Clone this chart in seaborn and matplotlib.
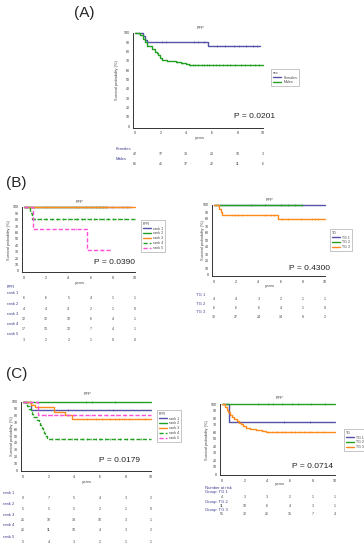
"""
FFP Kaplan-Meier curves by sex (A), FPR rank and TG group (B, C).
Redrawn with seaborn from the published figure.
"""

import numpy as np
import pandas as pd
import matplotlib
matplotlib.use('Agg')
import matplotlib.pyplot as plt
import matplotlib.transforms as mtransforms
import seaborn as sns

W, H = 364, 550
PAD_X, PAD_Y = 0.15, 2.0

BLUE = '#5252a8'
GREEN = '#22a022'
ORANGE = '#ff8a1c'
MAGENTA = '#ff4fd6'
LABEL_BLUE = '#3d3d8f'
TEXT = '#444444'

# ---- values ----
years = [0, 2, 4, 6, 8, 10]

# (A) sex
a_fem_t = [0, 0.6, 0.8, 0.95, 5.7, 9.8]
a_fem_s = [100, 97, 93, 90, 86, 86]
a_fem_cens = [2.1, 2.4, 4.6, 4.9, 5.4, 6.4, 7.0, 7.7, 8.1, 8.7, 9.2, 9.5]
a_male_t = [0, 0.4, 0.6, 0.75, 0.9, 1.3, 1.55, 1.7, 1.8, 1.95, 2.1, 2.5,
            3.2, 3.6, 4.0, 4.2, 10]
a_male_s = [100, 98, 94, 90, 86, 83, 80, 78, 76, 73, 71, 70, 69, 68, 67, 66, 66]
a_male_cens = [3.3, 3.7, 4.3, 4.5, 4.7, 4.9, 5.2, 5.4, 5.6, 5.8, 6.1, 6.3,
               6.6, 6.9, 7.2, 7.4, 7.8, 8.3, 8.6, 9.0, 9.4, 9.7]
a_fem_risk = [42, 37, 33, 20, 10, 3]
a_male_risk = [66, 45, 37, 22, 11, 6]

# (B) left, FPR rank
b_r1_t, b_r1_s = [0, 9.6], [100, 100]
b_r2_t, b_r2_s = [0, 7.5], [100, 100]
b_r3_t, b_r3_s = [0, 10], [100, 100]
b_r3_cens = [2.0, 2.3, 4.7, 5.0, 5.6, 6.1, 6.5, 6.8, 7.1, 7.4, 7.9, 8.9, 9.3]
b_r4_t, b_r4_s = [0, 0.5, 0.75, 10], [100, 91, 81, 81]
b_r4_cens = [1.0, 1.5, 2.0, 2.5, 3.0, 3.5, 4.0, 4.5, 4.8, 5.2, 5.5, 6.0,
             6.3, 6.8, 7.2, 7.6, 8.0, 8.5, 9.0]
b_r5_t, b_r5_s = [0, 0.78, 5.7, 7.9], [100, 66, 33, 33]
b_r5_cens = [4.7, 7.0]
b_rank_risk = [[6, 6, 5, 4, 1, 1],
               [4, 4, 4, 2, 1, 0],
               [12, 12, 10, 6, 4, 1],
               [17, 13, 12, 7, 4, 1],
               [3, 2, 2, 1, 0, 0]]

# (B) right, TG group
bt_g1_t, bt_g1_s = [0, 10], [100, 100]
bt_g2_t, bt_g2_s = [0, 7.9], [100, 100]
bt_g2_cens = [3.3, 4.6, 6.0, 6.7, 7.3, 7.9]
bt_g3_t, bt_g3_s = [0, 0.45, 0.6, 0.7, 5.8, 10], [100, 95, 90, 86, 80, 80]
bt_g3_cens = [1.6, 1.9, 2.2, 2.5, 4.6, 5.1, 5.4, 6.1, 6.7, 7.8, 8.8, 9.1, 9.4]
bt_tg_risk = [[4, 4, 3, 2, 1, 1],
              [6, 6, 6, 4, 1, 0],
              [32, 27, 24, 14, 8, 2]]

# (C) left, FPR rank
c_r1_t, c_r1_s = [0, 0.6, 10], [100, 88, 88]
c_r1_cens = [3.5, 7.0]
c_r2_t, c_r2_s = [0, 10], [100, 100]
c_r2_cens = [4.9, 5.4, 7.2]
c_r3_t = [0, 0.6, 0.95, 2.4, 3.3, 3.8, 10]
c_r3_s = [100, 96, 92, 86, 81, 75, 75]
c_r3_cens = [5.0, 5.7, 6.2, 6.8, 7.2, 7.5, 7.9, 8.3, 9.5]
c_r4_t = [0, 0.2, 0.35, 0.5, 0.6, 0.7, 0.8, 1.1, 1.25, 1.35, 1.45, 1.55,
          1.65, 1.75, 1.85, 10]
c_r4_s = [100, 97, 94, 90, 86, 82, 78, 74, 70, 66, 62, 58, 54, 50, 46, 46]
c_r4_cens = [2.3, 2.8, 3.3, 3.8, 4.2, 4.7, 5.0, 5.3, 5.7, 6.0, 6.4, 6.8,
             7.2, 7.6, 8.1, 8.6, 9.2]
c_r5_t, c_r5_s = [0, 1.2, 10], [100, 81, 81]
c_r5_cens = [1.8, 2.3, 2.9, 3.5, 4.0, 4.6, 5.2, 6.0, 6.6, 7.3, 8.0]
c_rank_risk = [[9, 7, 5, 4, 3, 2],
               [5, 5, 5, 2, 1, 0],
               [21, 18, 14, 10, 3, 1],
               [26, 11, 10, 4, 3, 2],
               [5, 4, 3, 2, 1, 1]]

# (C) right, TG group
ct_g1_t, ct_g1_s = [0, 0.6, 10], [100, 75, 75]
ct_g1_cens = [5.5, 7.8]
ct_g2_t, ct_g2_s = [0, 10], [100, 100]
ct_g2_cens = [3.2, 4.1, 4.5, 5.3, 6.2, 6.7, 7.9, 9.1]
ct_g3_t = [0, 0.25, 0.4, 0.55, 0.7, 0.9, 1.1, 1.3, 1.5, 1.7, 1.9, 2.1,
           2.5, 3.0, 3.5, 3.9, 10]
ct_g3_s = [100, 96, 92, 88, 85, 82, 79, 76, 73, 71, 68, 66, 65, 63, 61, 60, 60]
ct_g3_cens = [4.1, 4.4, 4.9, 5.3, 5.6, 6.1, 6.5, 6.9, 7.3, 7.8, 8.4, 9.0]
ct_tg_risk = [[4, 3, 3, 2, 1, 1],
              [11, 10, 6, 4, 3, 1],
              [51, 32, 26, 15, 7, 4]]

rank_labels = ['rank 1', 'rank 2', 'rank 3', 'rank 4', 'rank 5']
tg_labels = ['TG 1', 'TG 2', 'TG 3']


def fy(py):
    """Pixel row -> figure fraction."""
    return 1 - py / H


def ftext(fig, px, py, s, **kw):
    kw.setdefault('fontsize', 3)
    kw.setdefault('color', TEXT)
    return fig.text(px / W, fy(py), s, va='center', **kw)


def add_km_axes(fig, x0, x10, y100, y0):
    """Axes whose x=0..10 and y=0..100 land on the given pixels."""
    sx = (x10 - x0) / 10.0
    sy = (y0 - y100) / 100.0
    left, right = x0 - PAD_X * sx, x10 + PAD_X * sx
    top, bottom = y100 - PAD_Y * sy, y0 + PAD_Y * sy
    ax = fig.add_axes([left / W, 1 - bottom / H, (right - left) / W, (bottom - top) / H])
    ax.set_xlim(-PAD_X, 10 + PAD_X)
    ax.set_ylim(-PAD_Y, 100 + PAD_Y)
    sns.despine(ax=ax)
    ax.spines['left'].set_bounds(-PAD_Y, 100)
    ax.spines['bottom'].set_bounds(-PAD_X, 10)
    for sp in ('left', 'bottom'):
        ax.spines[sp].set_linewidth(0.7)
        ax.spines[sp].set_color('#333333')
    ax.set_xticks(years)
    ax.set_xticks(range(11), minor=True)
    ax.set_yticks(range(0, 101, 10))
    ax.tick_params(labelsize=2.6, length=1.4, width=0.5, pad=1, colors='#333333')
    ax.tick_params(which='minor', length=1.0, width=0.4)
    ax.grid(False)
    return ax


def draw_km(ax, t, s, cens, color, label, dashed=False):
    df = pd.DataFrame({'years': t, 'surv': s})
    sns.lineplot(data=df, x='years', y='surv', drawstyle='steps-post',
                 estimator=None, sort=False, color=color, lw=1.0,
                 ls=(0, (3, 1.5)) if dashed else '-', label=label, ax=ax)
    if cens:
        idx = np.searchsorted(t, cens, side='right') - 1
        lvl = np.asarray(s)[idx]
        sns.scatterplot(x=cens, y=lvl, marker='|', s=3, color=color,
                        linewidth=0.45, legend=False, ax=ax)


def km_legend(fig, ax, order, title, px, py):
    handles, labels = ax.get_legend_handles_labels()
    lookup = dict(zip(labels, handles))
    leg = ax.legend([lookup[k] for k in order], order, title=title,
                    loc='upper left', bbox_to_anchor=(px / W, fy(py)),
                    bbox_transform=fig.transFigure, fontsize=2.6,
                    title_fontsize=2.6, alignment='left', handlelength=2.4,
                    handletextpad=0.6, labelspacing=0.25, borderpad=0.5,
                    frameon=True, fancybox=False, edgecolor='#999999',
                    framealpha=1)
    leg.get_frame().set_linewidth(0.4)
    leg.get_title().set_color(TEXT)
    for txt in leg.get_texts():
        txt.set_color(TEXT)
    return leg


def decorate(fig, ax, title_xy, ylab_xy, xlab_xy, p_text, p_xy):
    ax.set_xlabel('')
    ax.set_ylabel('')
    ftext(fig, *title_xy, 'FFP', ha='center')
    ftext(fig, *ylab_xy, 'Survival probability (%)', ha='center', rotation=90,
          fontsize=2.8)
    ftext(fig, *xlab_xy, 'years', ha='center')
    ftext(fig, *p_xy, p_text, ha='right', fontsize=6, color='#222222')


def risk_table(fig, ax, names, counts, name_x, name_rows, num_rows):
    trans = mtransforms.blended_transform_factory(ax.transData, fig.transFigure)
    for name, row, ny, cy in zip(names, counts, name_rows, num_rows):
        ftext(fig, name_x, ny, name, ha='left', color=LABEL_BLUE)
        for x, n in zip(years, row):
            ax.text(x, fy(cy), str(n), transform=trans, ha='center',
                    va='center', fontsize=2.6, color=TEXT)


def main():
    sns.set_style('white')
    plt.rcParams['font.family'] = ['Liberation Sans', 'DejaVu Sans']

    fig = plt.figure(figsize=(W / 100, H / 100), dpi=100)
    fig.patch.set_facecolor('white')

    # ---------------- (A) ----------------
    fig.text(74 / W, fy(13), '(A)', fontsize=11, va='center', ha='left')
    ax = add_km_axes(fig, 135, 263, 33, 126)
    draw_km(ax, a_fem_t, a_fem_s, a_fem_cens, BLUE, 'Females')
    draw_km(ax, a_male_t, a_male_s, a_male_cens, GREEN, 'Males')
    km_legend(fig, ax, ['Females', 'Males'], 'sex', 269, 67)
    decorate(fig, ax, (200, 28), (117, 80), (200, 138), 'P = 0.0201', (275, 117))
    risk_table(fig, ax, ['Females', 'Males'], [a_fem_risk, a_male_risk],
               116, [149, 159], [154, 164])

    # ---------------- (B) ----------------
    fig.text(6 / W, fy(183), '(B)', fontsize=11, va='center', ha='left')
    ax = add_km_axes(fig, 24, 135, 207, 271)
    draw_km(ax, b_r1_t, b_r1_s, [], BLUE, 'rank 1')
    draw_km(ax, b_r2_t, b_r2_s, [], GREEN, 'rank 2')
    draw_km(ax, b_r3_t, b_r3_s, b_r3_cens, ORANGE, 'rank 3')
    draw_km(ax, b_r4_t, b_r4_s, b_r4_cens, GREEN, 'rank 4', dashed=True)
    draw_km(ax, b_r5_t, b_r5_s, b_r5_cens, MAGENTA, 'rank 5', dashed=True)
    km_legend(fig, ax, rank_labels, 'FPR', 139, 218)
    decorate(fig, ax, (80, 202), (9, 240), (80, 283), 'P = 0.0390', (135, 262))
    ftext(fig, 7, 287, 'FPR', ha='left', color=LABEL_BLUE)
    risk_table(fig, ax, rank_labels, b_rank_risk, 7,
               [293, 304, 314, 324, 334], [298, 309, 319, 329, 340])

    ax = add_km_axes(fig, 214, 325, 205, 275)
    draw_km(ax, bt_g1_t, bt_g1_s, [], BLUE, 'TG 1')
    draw_km(ax, bt_g2_t, bt_g2_s, bt_g2_cens, GREEN, 'TG 2')
    draw_km(ax, bt_g3_t, bt_g3_s, bt_g3_cens, ORANGE, 'TG 3')
    km_legend(fig, ax, tg_labels, 'TG', 328, 227)
    decorate(fig, ax, (270, 200), (203, 240), (270, 286), 'P = 0.4300', (330, 269))
    risk_table(fig, ax, tg_labels, bt_tg_risk, 196,
               [295, 304, 312], [299, 308, 317])

    # ---------------- (C) ----------------
    fig.text(6 / W, fy(374), '(C)', fontsize=11, va='center', ha='left')
    ax = add_km_axes(fig, 23, 151, 402, 470)
    draw_km(ax, c_r1_t, c_r1_s, c_r1_cens, BLUE, 'rank 1')
    draw_km(ax, c_r2_t, c_r2_s, c_r2_cens, GREEN, 'rank 2')
    draw_km(ax, c_r3_t, c_r3_s, c_r3_cens, ORANGE, 'rank 3')
    draw_km(ax, c_r4_t, c_r4_s, c_r4_cens, GREEN, 'rank 4', dashed=True)
    draw_km(ax, c_r5_t, c_r5_s, c_r5_cens, MAGENTA, 'rank 5', dashed=True)
    km_legend(fig, ax, rank_labels, 'FPR', 155, 408)
    decorate(fig, ax, (87, 394), (12, 436), (87, 482), 'P = 0.0179', (140, 461))
    risk_table(fig, ax, rank_labels, c_rank_risk, 3,
               [493, 504, 515, 525, 537], [498, 509, 520, 530, 542])

    ax = add_km_axes(fig, 222, 335, 404, 474)
    draw_km(ax, ct_g1_t, ct_g1_s, ct_g1_cens, BLUE, 'TG 1')
    draw_km(ax, ct_g2_t, ct_g2_s, ct_g2_cens, GREEN, 'TG 2')
    draw_km(ax, ct_g3_t, ct_g3_s, ct_g3_cens, ORANGE, 'TG 3')
    km_legend(fig, ax, tg_labels, 'TG', 342, 427)
    decorate(fig, ax, (280, 398), (207, 440), (280, 484), 'P = 0.0714', (333, 467))
    ftext(fig, 205, 488, 'Number at risk', ha='left', color=LABEL_BLUE)
    risk_table(fig, ax, ['Group: TG 1', 'Group: TG 2', 'Group: TG 3'],
               ct_tg_risk, 205, [492, 502, 510], [497, 506, 514])

    fig.savefig('out.png', dpi=100)
    plt.close(fig)


if __name__ == '__main__':
    main()
